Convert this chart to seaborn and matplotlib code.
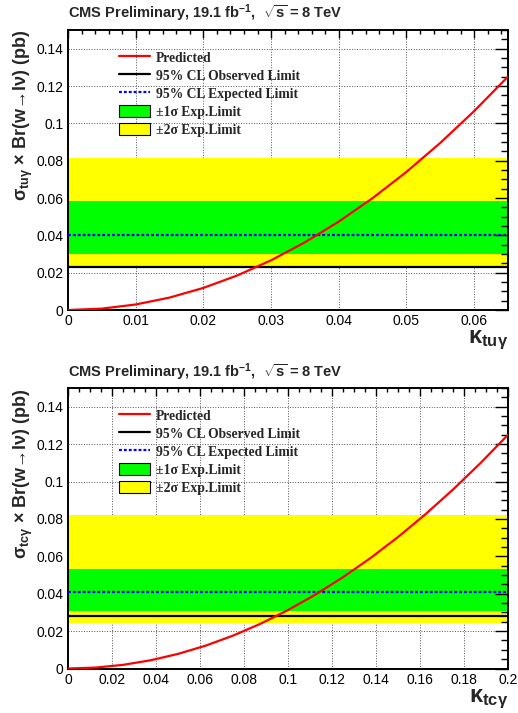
import matplotlib
matplotlib.use("Agg")
import matplotlib.pyplot as plt
import seaborn as sns
import pandas as pd
from matplotlib.lines import Line2D
from matplotlib.patches import Patch
from matplotlib.ticker import FixedLocator, FixedFormatter, MultipleLocator

# ---------------- data ----------------
kappa_tu = [0.0, 0.005, 0.01, 0.015, 0.02, 0.025, 0.03, 0.035, 0.04, 0.045, 0.05, 0.055, 0.06, 0.065]
pred_tu = [0.0, 0.00074, 0.00296, 0.00666, 0.01184, 0.0185, 0.02664, 0.03626, 0.04736, 0.05994, 0.074, 0.08954, 0.10656, 0.12506]

kappa_tc = [0.0, 0.0125, 0.025, 0.0375, 0.05, 0.0625, 0.075, 0.0875, 0.1, 0.1125, 0.125, 0.1375, 0.15, 0.1625, 0.175, 0.1875, 0.2]
pred_tc = [0.0, 0.00049, 0.00195, 0.00439, 0.00781, 0.0122, 0.01758, 0.02393, 0.03125, 0.03955, 0.04883, 0.05908, 0.07031, 0.08252, 0.0957, 0.10986, 0.125]

obs_limit = [0.0233, 0.0281]
exp_limit = [0.0401, 0.0411]
sig1_lo = [0.0302, 0.0309]
sig1_hi = [0.0585, 0.0533]
sig2_lo = [0.0236, 0.0241]
sig2_hi = [0.0817, 0.0822]

y_ticks = [0.0, 0.02, 0.04, 0.06, 0.08, 0.10, 0.12, 0.14]
y_ticklabels = ["0", "0.02", "0.04", "0.06", "0.08", "0.1", "0.12", "0.14"]
x_ticks_tu = [0.0, 0.01, 0.02, 0.03, 0.04, 0.05, 0.06]
x_ticklabels_tu = ["0", "0.01", "0.02", "0.03", "0.04", "0.05", "0.06"]
x_ticks_tc = [0.0, 0.02, 0.04, 0.06, 0.08, 0.10, 0.12, 0.14, 0.16, 0.18, 0.20]
x_ticklabels_tc = ["0", "0.02", "0.04", "0.06", "0.08", "0.1", "0.12", "0.14", "0.16", "0.18", "0.2"]
x_max = [0.065, 0.2]
y_max = 0.15

title_text = r"CMS Preliminary, 19.1 fb$^{-1}$,  $\sqrt{s}$ = 8 TeV"
y_titles = [r"$\sigma_{tu\gamma}$ × Br(w→lν) (pb)",
            r"$\sigma_{tc\gamma}$ × Br(w→lν) (pb)"]
x_titles = [r"$\kappa_{tu\gamma}$", r"$\kappa_{tc\gamma}$"]
legend_labels = ["Predicted", "95% CL Observed Limit", "95% CL Expected Limit",
                 "±1σ Exp.Limit", "±2σ Exp.Limit"]

# ---------------- style ----------------
sns.set_theme(style="white")
plt.rcParams["font.family"] = ["Liberation Sans", "DejaVu Sans"]
plt.rcParams["mathtext.fontset"] = "custom"
plt.rcParams["mathtext.rm"] = "Liberation Sans"
plt.rcParams["mathtext.it"] = "Liberation Sans:italic"
plt.rcParams["mathtext.bf"] = "Liberation Sans:bold"
plt.rcParams["mathtext.default"] = "regular"

fig = plt.figure(figsize=(5.18, 7.13), dpi=100)
axes = [fig.add_axes([0.1313, 0.5652, 0.8494, 0.3927]),
        fig.add_axes([0.1313, 0.0624, 0.8494, 0.3934])]

datasets = [(kappa_tu, pred_tu, x_ticks_tu, x_ticklabels_tu, 0.002),
            (kappa_tc, pred_tc, x_ticks_tc, x_ticklabels_tc, 0.005)]
title_y = [1 - 13 / 713, 1 - 372 / 713]

for i, ax in enumerate(axes):
    kx, py, xt, xtl, xminor = datasets[i]
    df = pd.DataFrame({"kappa": kx, "sigma": py})

    # grid (under the bands)
    for v in xt[1:]:
        ax.axvline(v, color="#555555", lw=0.7, ls=":", zorder=0.5)
    for v in y_ticks[1:]:
        ax.axhline(v, color="#555555", lw=0.7, ls=":", zorder=0.5)

    ax.axhspan(sig2_lo[i], sig2_hi[i], color="#ffff00", lw=0, zorder=1)
    ax.axhspan(sig1_lo[i], sig1_hi[i], color="#00ff00", lw=0, zorder=1.1)
    ax.axhline(exp_limit[i], color="#0000ff", lw=1.6, ls=(0, (1.3, 0.9)), zorder=3)
    ax.axhline(obs_limit[i], color="black", lw=1.6, zorder=3)
    sns.lineplot(data=df, x="kappa", y="sigma", ax=ax, color="#ff0000", lw=1.6,
                 zorder=4, sort=False, estimator=None)

    ax.set_xlim(0, x_max[i])
    ax.set_ylim(0, y_max)
    ax.set_axisbelow(False)
    ax.xaxis.set_major_locator(FixedLocator(xt))
    ax.xaxis.set_major_formatter(FixedFormatter(xtl))
    ax.yaxis.set_major_locator(FixedLocator(y_ticks))
    ax.yaxis.set_major_formatter(FixedFormatter(y_ticklabels))
    ax.xaxis.set_minor_locator(MultipleLocator(xminor))
    ax.yaxis.set_minor_locator(MultipleLocator(0.005))

    ax.tick_params(axis="both", which="both", direction="in", top=True, right=True,
                   colors="black", width=1.0, labelsize=10)
    ax.tick_params(axis="y", which="major", length=9.4, pad=3.5)
    ax.tick_params(axis="y", which="minor", length=5)
    ax.tick_params(axis="x", which="major", length=5.8, pad=3)
    ax.tick_params(axis="x", which="minor", length=2.9)
    for s in ax.spines.values():
        s.set_visible(True)
        s.set_color("black")
        s.set_linewidth(1.4)

    ax.set_ylabel(y_titles[i], loc="top", fontsize=13, fontweight="bold")
    ax.yaxis.set_label_coords(-0.076, 1.0)
    ax.set_xlabel(x_titles[i], loc="right", fontsize=17, fontweight="bold")
    ax.xaxis.set_label_coords(1.0, -0.068)

    handles = [Line2D([], [], color="#ff0000", lw=1.6),
               Line2D([], [], color="black", lw=1.6),
               Line2D([], [], color="#0000ff", lw=1.6, ls=(0, (1.3, 0.9))),
               Patch(facecolor="#00ff00", edgecolor="black", lw=0.8),
               Patch(facecolor="#ffff00", edgecolor="black", lw=0.8)]
    ax.legend(handles, legend_labels, loc="upper left", bbox_to_anchor=(0.115, 0.925),
              frameon=False, borderpad=0, borderaxespad=0, handlelength=2.3,
              handleheight=0.95, handletextpad=0.45, labelspacing=0.33,
              prop=dict(family=["Liberation Serif", "DejaVu Serif"], weight="bold", size=9.8))

    fig.text(68 / 518, title_y[i], title_text, ha="left", va="center",
             fontsize=10.5, fontweight="bold")

fig.savefig("out.png", dpi=100)
